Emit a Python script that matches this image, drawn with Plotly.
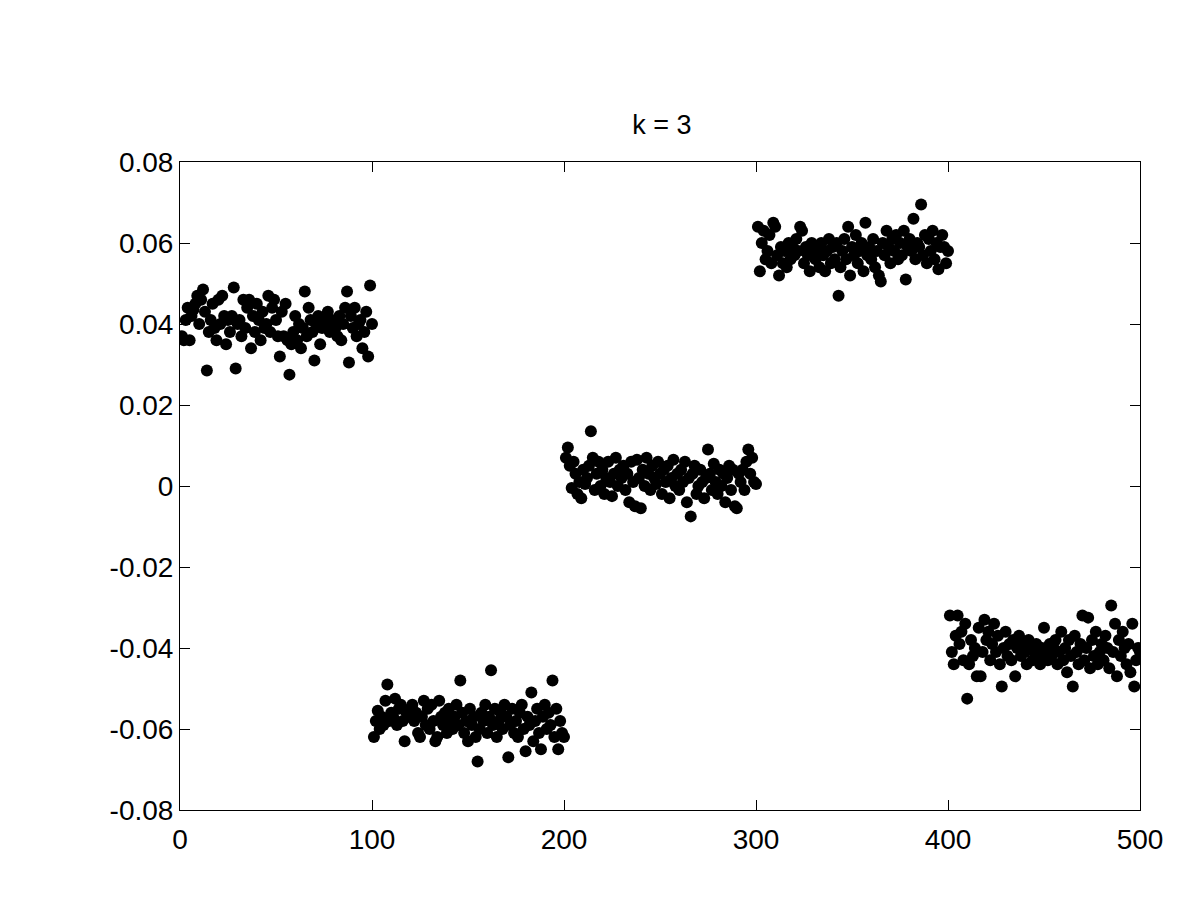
import numpy as np
import plotly.graph_objects as go

# y values, 100 samples per group (x = 1..500)
group1 = [0.037, 0.036, 0.041, 0.044, 0.036, 0.042, 0.0435, 0.045, 0.047, 0.040,
          0.046, 0.0485, 0.043, 0.0285, 0.038, 0.041, 0.045, 0.039, 0.036, 0.046,
          0.040, 0.047, 0.042, 0.035, 0.041, 0.038, 0.042, 0.049, 0.029, 0.040,
          0.041, 0.037, 0.046, 0.039, 0.044, 0.046, 0.034, 0.042, 0.038, 0.045,
          0.041, 0.036, 0.043, 0.039, 0.040, 0.047, 0.038, 0.044, 0.046, 0.041,
          0.037, 0.032, 0.043, 0.037, 0.045, 0.036, 0.0275, 0.035, 0.038, 0.042,
          0.036, 0.040, 0.034, 0.039, 0.048, 0.037, 0.044, 0.041, 0.038, 0.031,
          0.040, 0.042, 0.035, 0.039, 0.041, 0.040, 0.043, 0.038, 0.041, 0.040,
          0.039, 0.037, 0.042, 0.036, 0.040, 0.044, 0.048, 0.0305, 0.042, 0.039,
          0.044, 0.037, 0.040, 0.041, 0.034, 0.038, 0.043, 0.032, 0.0495, 0.040]

group2 = [-0.062, -0.058, -0.0555, -0.060, -0.057, -0.059, -0.053, -0.049, -0.058, -0.056,
          -0.057, -0.0525, -0.059, -0.055, -0.054, -0.058, -0.063, -0.056, -0.057, -0.055,
          -0.054, -0.058, -0.056, -0.061, -0.062, -0.057, -0.053, -0.059, -0.055, -0.060,
          -0.054, -0.058, -0.063, -0.062, -0.053, -0.057, -0.059, -0.056, -0.061, -0.055,
          -0.058, -0.060, -0.057, -0.054, -0.059, -0.048, -0.056, -0.061, -0.058, -0.063,
          -0.055, -0.059, -0.057, -0.062, -0.068, -0.060, -0.056, -0.058, -0.054, -0.061,
          -0.057, -0.0455, -0.059, -0.055, -0.062, -0.058, -0.056, -0.060, -0.054, -0.057,
          -0.067, -0.059, -0.055, -0.061, -0.058, -0.062, -0.056, -0.054, -0.060, -0.0655,
          -0.057, -0.059, -0.051, -0.063, -0.058, -0.055, -0.061, -0.065, -0.057, -0.054,
          -0.060, -0.056, -0.059, -0.048, -0.062, -0.055, -0.065, -0.058, -0.061, -0.062]

group3 = [0.007, 0.0095, 0.005, -0.0005, 0.006, 0.003, -0.002, 0.001, -0.003, 0.004,
          0.0005, 0.002, 0.005, 0.0135, 0.007, -0.001, 0.003, 0.006, 0.000, 0.004,
          -0.002, 0.002, 0.006, 0.001, -0.0025, 0.003, 0.007, 0.000, 0.004, 0.002,
          0.005, -0.001, 0.003, -0.004, 0.006, 0.001, -0.005, 0.0065, 0.002, -0.0055,
          0.004, 0.000, 0.007, 0.003, -0.001, 0.005, 0.002, 0.0005, 0.006, 0.003,
          -0.002, 0.004, 0.001, 0.005, -0.003, 0.002, 0.0065, 0.000, 0.003, -0.001,
          0.004, 0.001, 0.006, -0.004, 0.002, -0.0075, 0.003, 0.005, -0.002, 0.000,
          0.004, 0.001, -0.003, 0.002, 0.009, 0.003, -0.001, 0.0055, 0.001, -0.002,
          0.004, 0.000, 0.003, -0.004, 0.002, 0.005, -0.001, 0.004, -0.005, -0.0055,
          0.003, 0.001, 0.004, -0.001, 0.006, 0.009, 0.003, 0.007, 0.001, 0.0005]

group4 = [0.064, 0.053, 0.060, 0.063, 0.056, 0.058, 0.062, 0.055, 0.065, 0.064,
          0.057, 0.052, 0.059, 0.055, 0.058, 0.054, 0.060, 0.056, 0.059, 0.057,
          0.061, 0.058, 0.064, 0.063, 0.055, 0.059, 0.057, 0.053, 0.060, 0.058,
          0.056, 0.059, 0.054, 0.060, 0.057, 0.053, 0.058, 0.061, 0.055, 0.059,
          0.056, 0.060, 0.047, 0.054, 0.058, 0.061, 0.056, 0.064, 0.052, 0.059,
          0.057, 0.062, 0.055, 0.058, 0.060, 0.053, 0.065, 0.057, 0.059, 0.056,
          0.061, 0.054, 0.058, 0.052, 0.0505, 0.060, 0.057, 0.063, 0.059, 0.055,
          0.061, 0.058, 0.062, 0.056, 0.060, 0.057, 0.063, 0.051, 0.059, 0.061,
          0.058, 0.066, 0.056, 0.060, 0.059, 0.0695, 0.057, 0.062, 0.055, 0.061,
          0.058, 0.063, 0.056, 0.060, 0.0535, 0.059, 0.062, 0.059, 0.055, 0.058]

group5 = [-0.032, -0.041, -0.044, -0.037, -0.032, -0.039, -0.036, -0.043, -0.034, -0.0525,
          -0.044, -0.038, -0.042, -0.040, -0.047, -0.035, -0.047, -0.041, -0.033, -0.038,
          -0.036, -0.043, -0.039, -0.034, -0.041, -0.037, -0.044, -0.0495, -0.040, -0.036,
          -0.042, -0.039, -0.043, -0.038, -0.047, -0.040, -0.037, -0.042, -0.039, -0.041,
          -0.044, -0.038, -0.040, -0.043, -0.041, -0.039, -0.042, -0.044, -0.040, -0.035,
          -0.041, -0.043, -0.039, -0.042, -0.040, -0.038, -0.044, -0.041, -0.036, -0.043,
          -0.040, -0.046, -0.038, -0.042, -0.0495, -0.037, -0.041, -0.044, -0.039, -0.032,
          -0.043, -0.040, -0.0325, -0.045, -0.038, -0.042, -0.036, -0.044, -0.041, -0.039,
          -0.043, -0.037, -0.040, -0.045, -0.0295, -0.041, -0.034, -0.047, -0.038, -0.042,
          -0.036, -0.040, -0.044, -0.039, -0.046, -0.034, -0.0495, -0.043, -0.040, -0.041]

x_ticks = [0, 100, 200, 300, 400, 500]
y_ticks = [-0.08, -0.06, -0.04, -0.02, 0, 0.02, 0.04, 0.06, 0.08]
y_labels = ["-0.08", "-0.06", "-0.04", "-0.02", "0", "0.02", "0.04", "0.06", "0.08"]

y = group1 + group2 + group3 + group4 + group5
x = np.arange(1, len(y) + 1)

fig = go.Figure()
fig.add_trace(go.Scatter(
    x=x, y=y, mode="markers",
    marker=dict(color="black", size=12, line=dict(width=0)),
    showlegend=False,
))

axis_style = dict(
    showgrid=False, zeroline=False,
    showline=True, linecolor="black", linewidth=1, mirror="ticks",
    ticks="inside", ticklen=10, tickcolor="black",
    tickfont=dict(family="Liberation Sans, Arial, sans-serif", size=28, color="black"),
)

fig.update_xaxes(range=[0, 500], tickvals=x_ticks, ticklabelstandoff=4, **axis_style)
fig.update_yaxes(range=[-0.08, 0.08], tickvals=y_ticks, ticktext=y_labels, **axis_style)

# page body adds ~8px, so the margins are shifted to land the frame at 180..1140 x 162..810
fig.update_layout(
    width=1200, height=900,
    margin=dict(l=172, r=68, t=154, b=98),
    paper_bgcolor="white", plot_bgcolor="white",
    title=dict(text="k = 3", x=0.545, xanchor="center", y=0.87, yanchor="middle",
               font=dict(family="Liberation Sans, Arial, sans-serif", size=27, color="black")),
)

fig.write_html("out.html")
